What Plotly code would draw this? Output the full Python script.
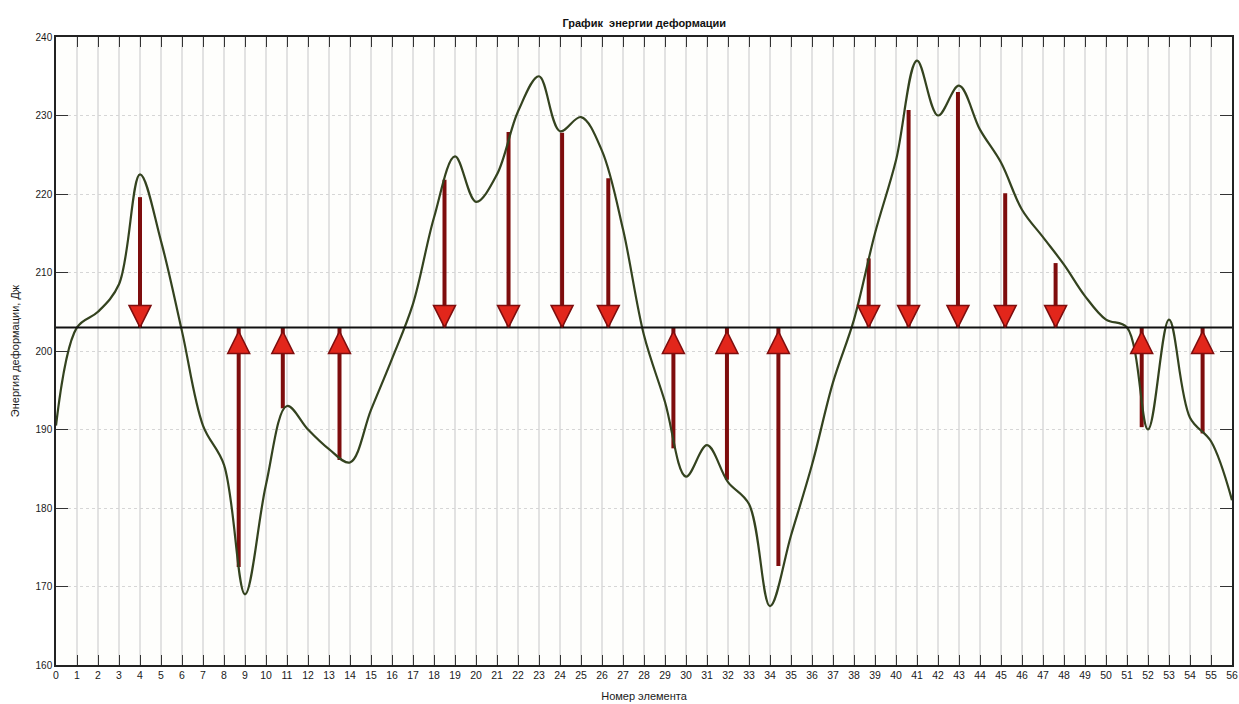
import plotly.graph_objects as go

# ---- data ----
elements = list(range(0, 57))
energy = [190.5, 203.0, 205.0, 208.5, 222.5, 214.0, 202.5, 190.5, 185.5, 169.0,
          183.0, 193.0, 190.0, 187.5, 185.8, 192.5, 199.0, 206.0, 217.0, 224.8,
          219.0, 222.5, 230.5, 235.0, 228.0, 229.8, 225.5, 215.5, 202.0, 193.5,
          184.0, 188.0, 183.3, 180.5, 167.5, 176.5, 185.5, 196.0, 204.0, 215.0,
          224.3, 237.0, 230.0, 233.8, 228.2, 224.0, 218.0, 214.5, 211.0, 207.0,
          204.0, 203.0, 190.0, 204.0, 191.5, 188.5, 181.0]
mean_energy = 203.0

arrow_x = [4.0, 8.7, 10.8, 13.5, 18.5, 21.55, 24.1, 26.3, 29.4, 31.95, 34.4,
           38.7, 40.6, 42.95, 45.2, 47.6, 51.7, 54.6]
arrow_from = [219.6, 172.5, 192.7, 186.1, 221.8, 227.9, 227.8, 222.0, 187.6, 183.6,
              172.6, 211.8, 230.7, 233.0, 220.1, 211.2, 190.3, 189.5]

y_ticks = [160, 170, 180, 190, 200, 210, 220, 230, 240]

title_text = "График  энергии деформации"
x_title = "Номер элемента"
y_title = "Энергия деформации, Дж"

SHAFT = "#7e0d0d"
HEAD = "#e2261b"
CURVE = "#34431f"

fig = go.Figure()

# shafts
for xa, v in zip(arrow_x, arrow_from):
    fig.add_trace(go.Scatter(x=[xa, xa], y=[v, mean_energy], mode="lines",
                             line=dict(color=SHAFT, width=4), hoverinfo="skip",
                             showlegend=False))

# curve
fig.add_trace(go.Scatter(x=elements, y=energy, mode="lines",
                         line=dict(color=CURVE, width=2.2, shape="spline", smoothing=1.0),
                         showlegend=False))

# mean line
fig.add_trace(go.Scatter(x=[elements[0], elements[-1]], y=[mean_energy, mean_energy],
                         mode="lines", line=dict(color="#111111", width=2),
                         showlegend=False))

# arrow heads
down_x = [xa for xa, v in zip(arrow_x, arrow_from) if v > mean_energy]
up_x = [xa for xa, v in zip(arrow_x, arrow_from) if v < mean_energy]
fig.add_trace(go.Scatter(x=down_x, y=[mean_energy] * len(down_x), mode="markers",
                         marker=dict(symbol="arrow-down", size=22, color=HEAD,
                                     line=dict(color=SHAFT, width=1.5)),
                         showlegend=False))
fig.add_trace(go.Scatter(x=up_x, y=[mean_energy - 0.5] * len(up_x), mode="markers",
                         marker=dict(symbol="arrow-up", size=22, color=HEAD,
                                     line=dict(color=SHAFT, width=1.5)),
                         showlegend=False))

font = "Liberation Sans, Arial, sans-serif"
fig.update_layout(
    width=1239, height=704,
    margin=dict(l=56, r=7, t=37, b=39),
    paper_bgcolor="white",
    plot_bgcolor="#fefefc",
    font=dict(family=font, size=10, color="#1a1a1a"),
    title=dict(text="<b>" + title_text + "</b>", x=0.52, xanchor="center",
               y=0.967, yanchor="middle", font=dict(size=11, color="#111111")),
    showlegend=False,
)
fig.update_xaxes(
    range=[0, 56], tickmode="linear", tick0=0, dtick=1,
    showgrid=True, gridcolor="#e2e2e2", gridwidth=1.5,
    showline=True, linecolor="#222222", linewidth=1.5, mirror="ticks",
    ticks="inside", ticklen=10, tickcolor="#333333", tickwidth=1,
    tickfont=dict(size=10.5), zeroline=False, automargin=False,
    title=dict(text=x_title, font=dict(size=11), standoff=12),
)
fig.update_yaxes(
    range=[160, 240], tickvals=y_ticks,
    showgrid=True, gridcolor="#d6d6d6", gridwidth=1, griddash="dot",
    showline=True, linecolor="#222222", linewidth=1.5, mirror="ticks",
    ticks="inside", ticklen=12, tickcolor="#333333", tickwidth=1,
    tickfont=dict(size=10), zeroline=False, automargin=False,
    title=dict(text=y_title, font=dict(size=11), standoff=14),
)

fig.write_html(
    "out.html",
    config={"displayModeBar": False},
    post_script="document.body.style.margin='0';document.body.style.overflow='hidden';",
)
